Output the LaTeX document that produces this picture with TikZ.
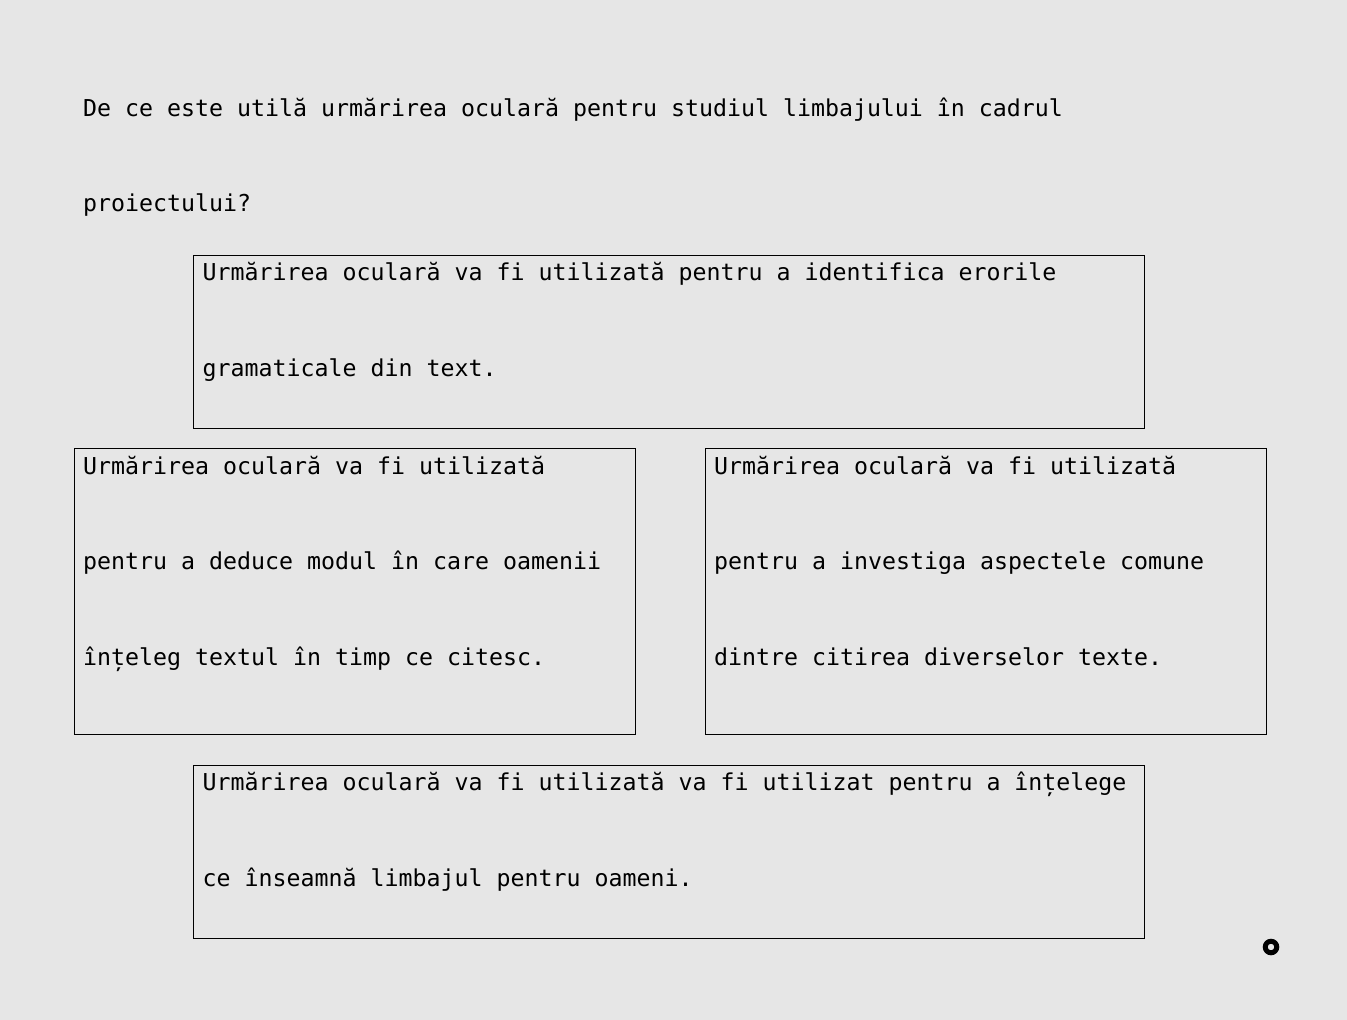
\documentclass[tikz,border=0pt]{standalone}
\usepackage{fontspec}
\newfontfamily\monofont{DejaVu Sans Mono}
\usetikzlibrary{positioning,calc}
\definecolor{paper}{HTML}{E6E6E6}
\begin{document}
\begin{tikzpicture}[x=1pt,y=-1pt,
      every node/.append style={font=\monofont\fontsize{23.25}{95.5}\selectfont},
      frame/.style={draw=black,line width=1pt,inner sep=0pt,anchor=north west},
      line/.style={anchor=base west,align=left,inner sep=0pt}]
    \fill[paper] (0,0) rectangle (1347,1020);
    \useasboundingbox (0,0) rectangle (1347,1020);
    \node (question) [line] at (83,211.5) {De ce este utilă urmărirea oculară pentru studiul limbajului în cadrul\\proiectului?};
    \node (errors) [frame,minimum width=951,minimum height=173] at (192.5,255) {};
    \node (errorsText) [line] at ($(errors.north west)+(10,121)$) {Urmărirea oculară va fi utilizată pentru a identifica erorile\\gramaticale din text.};
    \node (reading) [frame,minimum width=561,minimum height=286] at (73.5,448) {};
    \node (readingText) [line] at ($(reading.north west)+(9.5,217)$) {Urmărirea oculară va fi utilizată\\pentru a deduce modul în care oamenii\\înțeleg textul în timp ce citesc.};
    \node (texts) [frame,minimum width=561,minimum height=286] at (704.5,448) {};
    \node (textsText) [line] at ($(texts.north west)+(9.5,217)$) {Urmărirea oculară va fi utilizată\\pentru a investiga aspectele comune\\dintre citirea diverselor texte.};
    \node (meaning) [frame,minimum width=951,minimum height=173] at (192.5,765) {};
    \node (meaningText) [line] at ($(meaning.north west)+(10,121)$) {Urmărirea oculară va fi utilizată va fi utilizat pentru a înțelege\\ce înseamnă limbajul pentru oameni.};
    \node (dot) [circle,draw=black,line width=5pt,minimum size=11.5pt,inner sep=0pt] at (1271,947) {};
\end{tikzpicture}
\end{document}
